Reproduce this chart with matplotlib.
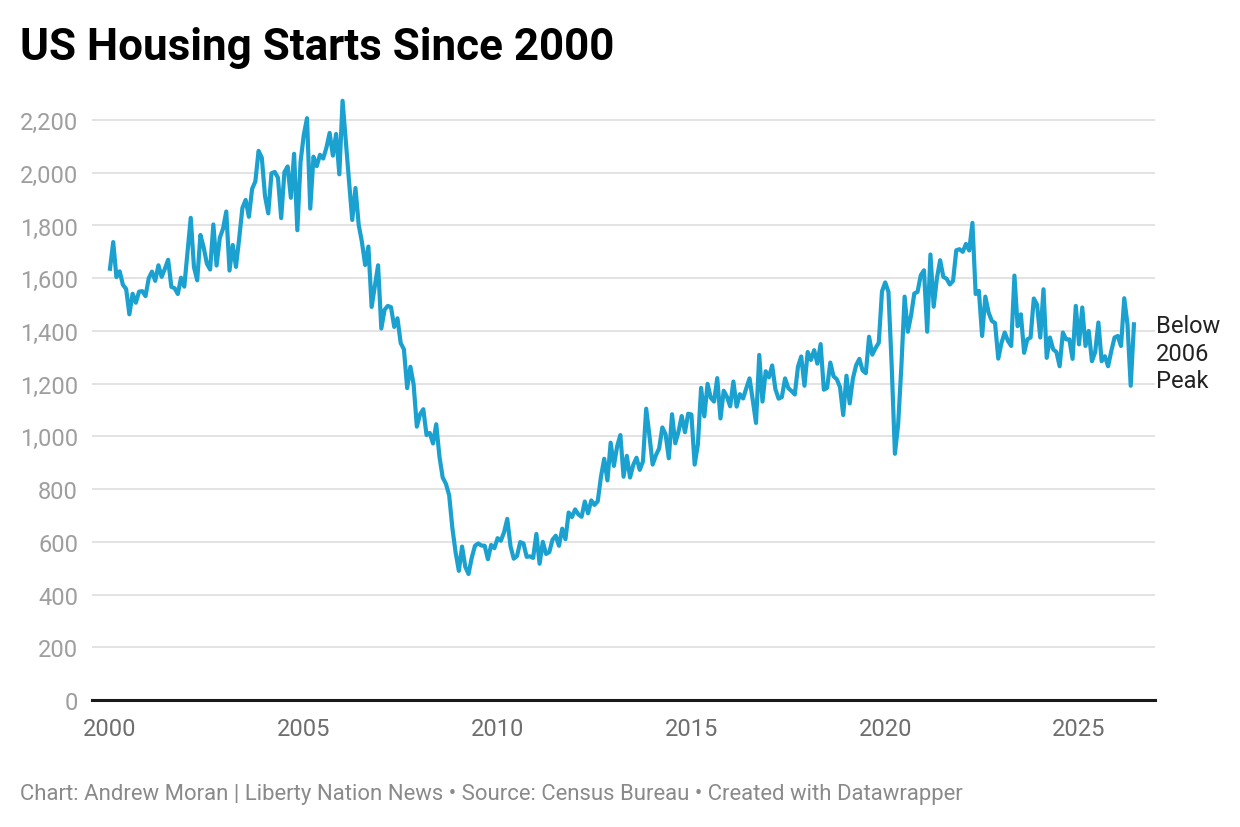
import numpy as np
import matplotlib
matplotlib.use("Agg")
import matplotlib.pyplot as plt
from matplotlib.ticker import FuncFormatter

plt.rcParams['font.family'] = ['Roboto', 'DejaVu Sans']

# monthly housing starts (thousands, SAAR), Jan 2000 onward
starts = [
    # 2000
    1636, 1737, 1604, 1626, 1575, 1559, 1463, 1541, 1507, 1549, 1551, 1532,
    # 2001
    1600, 1625, 1590, 1649, 1605, 1636, 1670, 1567, 1562, 1540, 1602, 1568,
    # 2002
    1698, 1829, 1642, 1592, 1764, 1717, 1655, 1633, 1804, 1648, 1753, 1788,
    # 2003
    1853, 1629, 1726, 1643, 1751, 1867, 1897, 1833, 1939, 1967, 2083, 2057,
    # 2004
    1911, 1846, 1998, 2003, 1981, 1828, 2002, 2024, 1905, 2072, 1782, 2042,
    # 2005
    2144, 2207, 1864, 2061, 2025, 2068, 2054, 2095, 2151, 2065, 2147, 1994,
    # 2006
    2273, 2119, 1969, 1821, 1942, 1802, 1737, 1650, 1720, 1491, 1570, 1649,
    # 2007
    1409, 1480, 1495, 1490, 1415, 1448, 1354, 1330, 1183, 1264, 1197, 1037,
    # 2008
    1084, 1103, 1005, 1013, 973, 1046, 923, 844, 820, 777, 652, 560,
    # 2009
    490, 582, 505, 478, 540, 585, 594, 586, 585, 534, 588, 576,
    # 2010
    614, 604, 636, 687, 583, 536, 546, 599, 594, 543, 545, 539,
    # 2011
    630, 517, 600, 554, 561, 608, 623, 585, 650, 610, 711, 694,
    # 2012
    723, 704, 695, 753, 708, 757, 740, 754, 847, 915, 833, 976,
    # 2013
    888, 962, 1005, 847, 926, 844, 892, 919, 873, 905, 1105, 1003,
    # 2014
    893, 928, 954, 1034, 1008, 917, 1084, 974, 1018, 1077, 1016, 1086,
    # 2015
    1083, 893, 969, 1184, 1076, 1199, 1146, 1132, 1221, 1068, 1173, 1150,
    # 2016
    1114, 1208, 1113, 1160, 1144, 1183, 1220, 1137, 1051, 1309, 1132, 1247,
    # 2017
    1224, 1269, 1179, 1143, 1149, 1220, 1183, 1172, 1159, 1265, 1303, 1192,
    # 2018
    1320, 1290, 1327, 1276, 1350, 1177, 1184, 1280, 1228, 1217, 1187, 1081,
    # 2019
    1230, 1125, 1220, 1270, 1294, 1250, 1240, 1378, 1310, 1335, 1355, 1550,
    # 2020
    1584, 1548, 1269, 934, 1045, 1265, 1530, 1397, 1459, 1542, 1548, 1611,
    # 2021
    1630, 1397, 1690, 1492, 1600, 1668, 1605, 1598, 1576, 1590, 1706, 1710,
    # 2022
    1700, 1730, 1705, 1810, 1540, 1552, 1381, 1530, 1470, 1438, 1430, 1295,
    # 2023
    1355, 1394, 1362, 1343, 1610, 1418, 1463, 1317, 1368, 1375, 1523, 1500,
    # 2024
    1375, 1558, 1298, 1375, 1330, 1320, 1266, 1394, 1368, 1368, 1294, 1495,
    # 2025
    1349, 1489, 1343, 1400, 1285, 1320, 1432, 1285, 1304, 1266, 1324, 1375,
    # 2026
    1381, 1343, 1524, 1425, 1192, 1425,
]
years = 2000 + np.arange(len(starts)) / 12

year_ticks = [2000, 2005, 2010, 2015, 2020, 2025]
value_ticks = [0, 200, 400, 600, 800, 1000, 1200, 1400, 1600, 1800, 2000, 2200]

line_color = "#1ba1cf"

fig = plt.figure(figsize=(12.4, 8.28), dpi=100)
ax = fig.add_axes([92 / 1240, 127 / 828, 1063 / 1240, 603.7 / 828])

ax.plot(years, starts, color=line_color, linewidth=3.0, solid_joinstyle='round')

ax.set_xlim(1999.536, 2026.96)
ax.set_ylim(0, 2290)
ax.set_xticks(year_ticks)
ax.set_yticks(value_ticks)
ax.yaxis.set_major_formatter(FuncFormatter(lambda v, p: f"{int(v):,}"))

ax.grid(axis='y', color="#e3e3e3", linewidth=1.4)
ax.set_axisbelow(True)
for s in ['top', 'right', 'left']:
    ax.spines[s].set_visible(False)
ax.spines['bottom'].set_color("#1a1a1a")
ax.spines['bottom'].set_linewidth(2.2)
ax.spines['bottom'].set_zorder(3)

ax.tick_params(axis='y', length=0, pad=10, labelsize=17, labelcolor="#9e9e9e")
ax.tick_params(axis='x', length=0, pad=12, labelsize=17, labelcolor="#6e6e6e")

ax.text(1.001, 1316, "Below\n2006\nPeak", transform=ax.get_yaxis_transform(),
        ha='left', va='center', fontsize=17, color="#222222", linespacing=1.27,
        clip_on=False)

fig.text(20 / 1240, 1 - 48 / 828, "US Housing Starts Since 2000", fontsize=31.7,
         fontweight='bold', color="#000000", ha='left', va='center')
fig.text(20 / 1240, 1 - 795 / 828,
         "Chart: Andrew Moran | Liberty Nation News \u2022 Source: Census Bureau \u2022 Created with Datawrapper",
         fontsize=15.9, color="#8a8a8a", ha='left', va='center')

fig.savefig("out.png", dpi=100)
